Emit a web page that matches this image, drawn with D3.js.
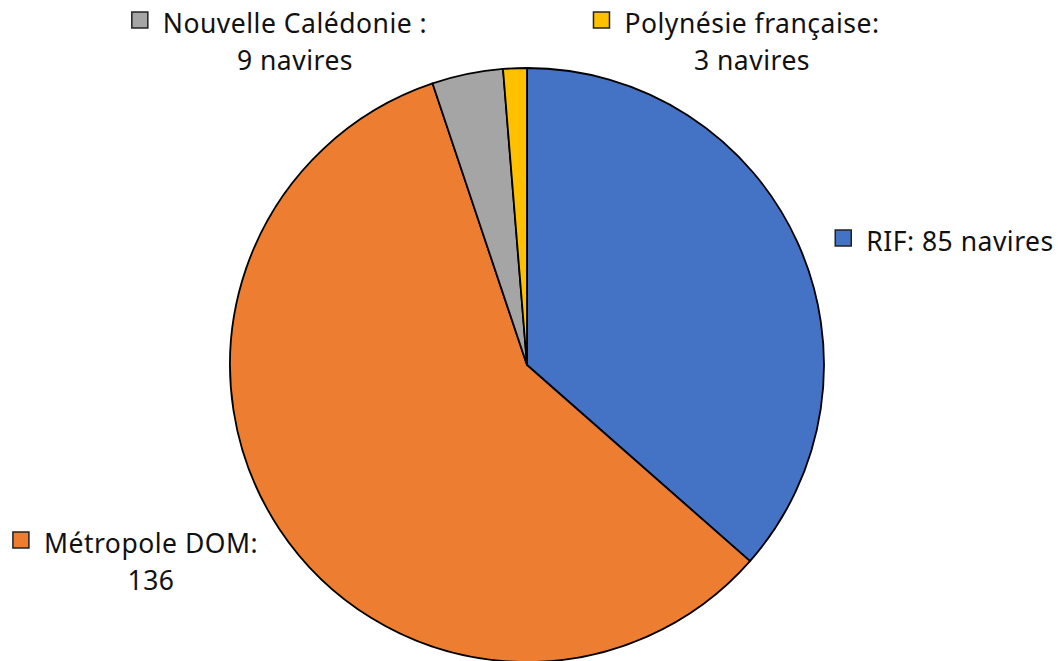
<!DOCTYPE html>
<html>
<head>
<meta charset="utf-8">
<script src="https://cdn.jsdelivr.net/npm/d3@7"></script>
<style>
  body { margin: 0; background: #fff; }
  svg { display: block; }
  text { font-family: "Noto Sans", "Open Sans", sans-serif; fill: #111; }
</style>
</head>
<body>
<div id="container"></div>
<script>
// chart data
var categories = ["RIF", "Métropole DOM", "Nouvelle Calédonie", "Polynésie française"];
var values = [85, 136, 9, 3];
var colors = ["#4472C4", "#ED7D31", "#A5A5A5", "#FFC000"];
var labelLines = [
  ["RIF: 85 navires"],
  ["Métropole DOM:", "136"],
  ["Nouvelle Calédonie :", "9 navires"],
  ["Polynésie française:", "3 navires"]
];
// label anchor (center of text block, first baseline)
var labelPos = [[960, 251], [151, 553], [295, 33], [752, 33]];

var w = 1058, h = 661;
var cx = 527, cy = 365, r = 297;

var svg = d3.select("div#container")
  .append("svg")
  .attr("width", w)
  .attr("height", h);

var pie = d3.pie().sort(null).value(function(d) { return d; });
var arc = d3.arc().innerRadius(0).outerRadius(r);

var g = svg.append("g").attr("transform", "translate(" + cx + "," + cy + ")");

g.selectAll("path")
  .data(pie(values))
  .enter().append("path")
  .attr("d", arc)
  .attr("fill", function(d, i) { return colors[i]; })
  .attr("stroke", "#000")
  .attr("stroke-width", 1.8)
  .attr("stroke-linejoin", "round");

// labels with key squares
var fs = 26.5, lh = 37;
categories.forEach(function(c, i) {
  var lab = svg.append("g");
  var t = lab.append("text")
    .attr("text-anchor", "middle")
    .style("font-size", fs + "px")
    .style("letter-spacing", "0.5px");
  labelLines[i].forEach(function(line, k) {
    t.append("tspan")
      .attr("x", labelPos[i][0])
      .attr("y", labelPos[i][1] + k * lh)
      .text(line);
  });
  // width of first line to place key square
  var first = t.select("tspan").node().getComputedTextLength();
  var sx = labelPos[i][0] - first / 2 - 31;
  lab.append("rect")
    .attr("x", sx)
    .attr("y", labelPos[i][1] - 21)
    .attr("width", 16)
    .attr("height", 16)
    .attr("fill", colors[i])
    .attr("stroke", "#222")
    .attr("stroke-width", 1.5);
});
</script>
</body>
</html>
